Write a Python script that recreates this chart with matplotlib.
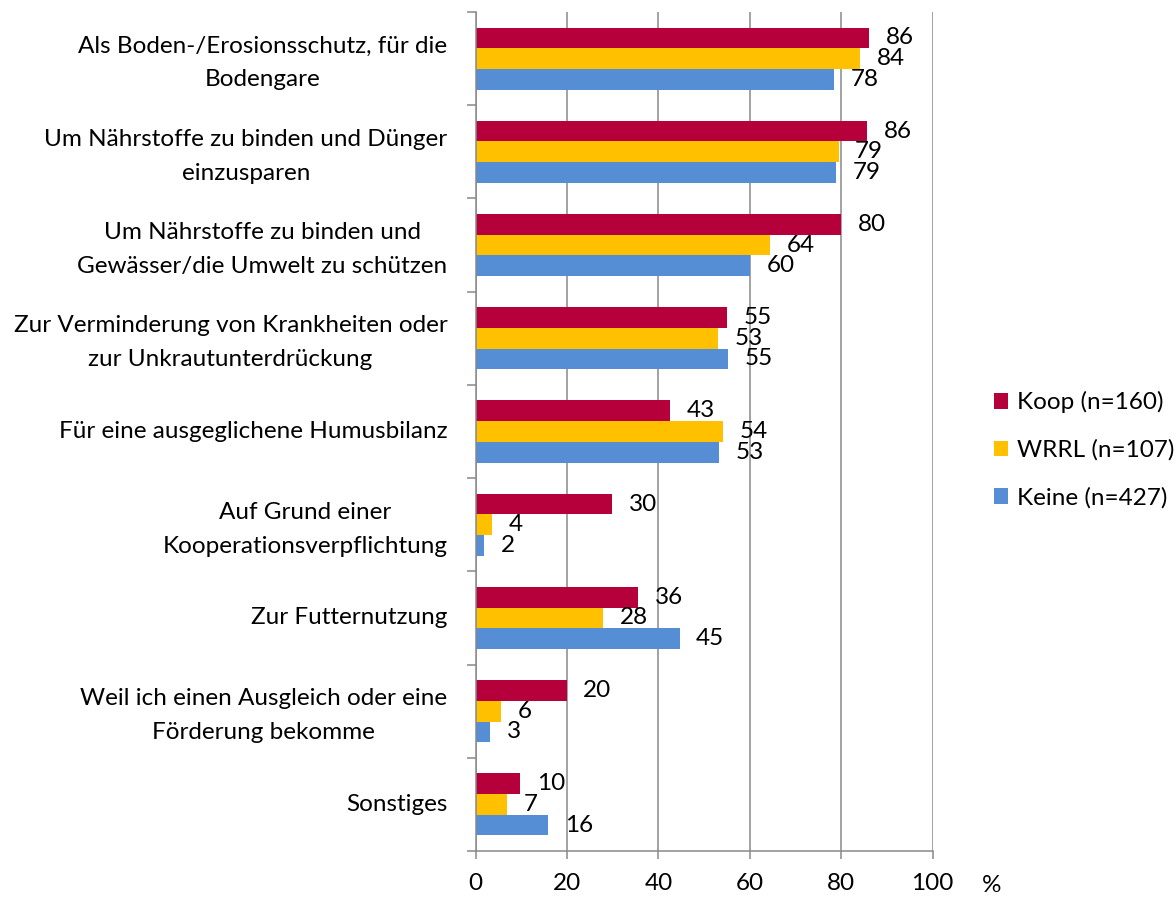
import matplotlib
matplotlib.use("Agg")
import matplotlib.pyplot as plt
import matplotlib.transforms as mtransforms
import numpy as np

plt.rcParams['font.family'] = ['Lato', 'DejaVu Sans']

categories = [
    "Als Boden-/Erosionsschutz, für die\nBodengare",
    "Um Nährstoffe zu binden und Dünger\neinzusparen",
    "Um Nährstoffe zu binden und\nGewässer/die Umwelt zu schützen",
    "Zur Verminderung von Krankheiten oder\nzur Unkrautunterdrückung",
    "Für eine ausgeglichene Humusbilanz",
    "Auf Grund einer\nKooperationsverpflichtung",
    "Zur Futternutzung",
    "Weil ich einen Ausgleich oder eine\nFörderung bekomme",
    "Sonstiges",
]
koop = [86.1, 85.6, 80.0, 54.9, 42.6, 29.9, 35.6, 19.9, 9.8]
wrrl = [84.1, 79.4, 64.4, 53.1, 54.1, 3.6, 27.9, 5.6, 6.9]
keine = [78.4, 78.9, 60.0, 55.2, 53.3, 1.8, 44.6, 3.1, 15.9]
series_names = ["Koop (n=160)", "WRRL (n=107)", "Keine (n=427)"]
colors = ["#B5003B", "#FFC000", "#558ED5"]
xticks = [0, 20, 40, 60, 80, 100]

fig = plt.figure(figsize=(11.76, 8.99), dpi=100)
ax = fig.add_axes([0.4045, 0.0534, 0.7931 - 0.4045, 0.9867 - 0.0534])

fs = 17.5
y = np.arange(len(categories))
h = 0.222
for k, (vals, name, col) in enumerate(zip([koop, wrrl, keine], series_names, colors)):
    pos = y + (k - 1) * h
    ax.barh(pos, vals, height=h, color=col, label=name, edgecolor='none')
    for p, v in zip(pos, vals):
        ax.annotate(f"{v:.0f}", (v, p), xytext=(12, 0), textcoords='offset points',
                    ha='left', va='center', fontsize=fs, color='black')

ax.set_ylim(len(categories) - 0.5, -0.5)
ax.set_xlim(0, 100)
ax.set_xticks(xticks)
ax.set_xticklabels([str(t) for t in xticks], fontsize=fs)
ax.set_yticks(y)
ax.set_yticklabels([])
ax.set_yticks(np.arange(-0.5, len(categories)), minor=True)
ax.tick_params(axis='y', which='major', length=0)
ax.tick_params(axis='y', which='minor', length=6.5, width=1.1, color='#898989', direction='out')
ax.tick_params(axis='x', length=6, width=1.1, color='#898989', pad=10)

# category labels, two-line ones nudged down a little
trans = mtransforms.blended_transform_factory(ax.transAxes, ax.transData)
shift = mtransforms.ScaledTranslation(0, -0.045, fig.dpi_scale_trans)
for yi, lab in zip(y, categories):
    tr = trans + shift if "\n" in lab else trans
    ax.text(-0.0617, yi, lab, transform=tr, fontsize=fs, ha='right', va='center',
            multialignment='center', linespacing=1.75)

ax.grid(axis='x', color='#898989', linewidth=1.1)
ax.set_axisbelow(True)
for s in ['top', 'right']:
    ax.spines[s].set_visible(False)
for s in ['left', 'bottom']:
    ax.spines[s].set_color('#898989')
    ax.spines[s].set_linewidth(1.1)

ax.text(1.13, -0.041, "%", transform=ax.transAxes, fontsize=fs, ha='center', va='center')

ax.legend(loc='center left', bbox_to_anchor=(1.086, 0.478), frameon=False, fontsize=fs,
          handlelength=0.6, handleheight=0.6, handletextpad=0.35, labelspacing=1.07)

fig.savefig("out.png", dpi=100)
